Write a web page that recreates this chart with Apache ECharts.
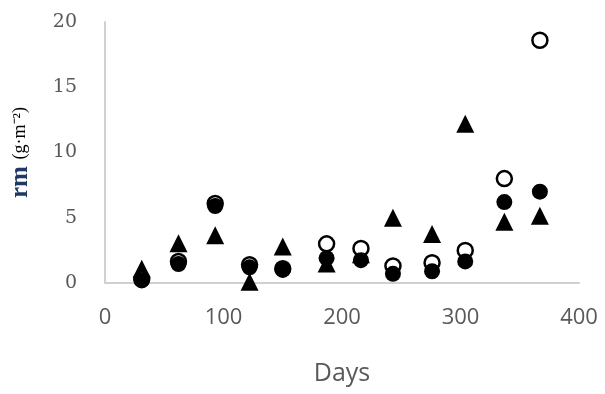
<!DOCTYPE html>
<html>
<head>
<meta charset="utf-8">
<script src="https://cdn.jsdelivr.net/npm/echarts@6/dist/echarts.min.js"></script>
<style>
html,body{margin:0;padding:0;background:#fff;}
#chart{width:605px;height:394px;}
</style>
</head>
<body>
<div id="chart"></div>
<script>
// Sampling days
const days = [31, 62, 93, 122, 150, 187, 216, 243, 276, 304, 337, 367];
// Open circles
const openVals = [0.3, 1.65, 6.1, 1.4, 1.1, 3.0, 2.65, 1.3, 1.55, 2.5, 8.0, 18.6];
// Filled circles
const filledVals = [0.2, 1.45, 5.9, 1.2, 1.0, 1.9, 1.75, 0.7, 0.9, 1.65, 6.2, 7.0];
// Filled triangles
const triVals = [1.1, 3.05, 3.65, 0.1, 2.8, 1.5, 2.2, 5.0, 3.75, 12.2, 4.7, 5.15];
// Axis settings
const xTicks = [0, 100, 200, 300, 400];
const yTicks = [0, 5, 10, 15, 20];
const xTitle = 'Days';
const yUnit = 'rm';
const yUnitRest = '(g·m⁻²)';

const pair = (vals) => days.map((d, i) => [d, vals[i]]);

const chart = echarts.init(document.getElementById('chart'), null, {renderer: 'canvas'});
chart.setOption({
  animation: false,
  backgroundColor: '#fff',
  grid: {left: 103, right: 26, top: 22, bottom: 111},
  xAxis: {
    type: 'value',
    min: xTicks[0], max: xTicks[xTicks.length - 1], interval: 100,
    name: xTitle,
    nameLocation: 'middle',
    nameGap: 78,
    nameTextStyle: {fontFamily: 'Open Sans', fontSize: 25, color: '#595959'},
    axisLine: {show: true, lineStyle: {color: '#d0d0d0', width: 2}},
    axisTick: {show: false},
    splitLine: {show: false},
    axisLabel: {fontFamily: 'Open Sans', fontSize: 22, color: '#595959', margin: 24}
  },
  yAxis: {
    type: 'value',
    min: yTicks[0], max: yTicks[yTicks.length - 1], interval: 5,
    name: '{a|' + yUnit + '}  {b|' + yUnitRest + '}',
    nameLocation: 'middle',
    nameRotate: 90,
    nameGap: 72,
    nameTextStyle: {
      rich: {
        a: {fontFamily: 'Liberation Serif', fontWeight: 'bold', fontSize: 25, color: '#203864'},
        b: {fontFamily: 'Liberation Serif', fontSize: 18, color: '#000'}
      }
    },
    axisLine: {show: true, lineStyle: {color: '#d0d0d0', width: 2}},
    axisTick: {show: false},
    splitLine: {show: false},
    axisLabel: {fontFamily: 'DejaVu Serif', fontSize: 19, color: '#595959', margin: 28, padding: [9, 0, 0, 0]}
  },
  series: [
    {
      type: 'scatter', data: pair(triVals), symbol: 'triangle', symbolSize: [18, 18], clip: false,
      itemStyle: {color: '#000', opacity: 1}
    },
    {
      type: 'scatter', data: pair(openVals), symbol: 'circle', symbolSize: 15, clip: false,
      itemStyle: {color: '#fff', borderColor: '#000', borderWidth: 2.5, opacity: 1}
    },
    {
      type: 'scatter', data: pair(filledVals), symbol: 'circle', symbolSize: 16, clip: false,
      itemStyle: {color: '#000', opacity: 1}
    }
  ]
});
</script>
</body>
</html>
